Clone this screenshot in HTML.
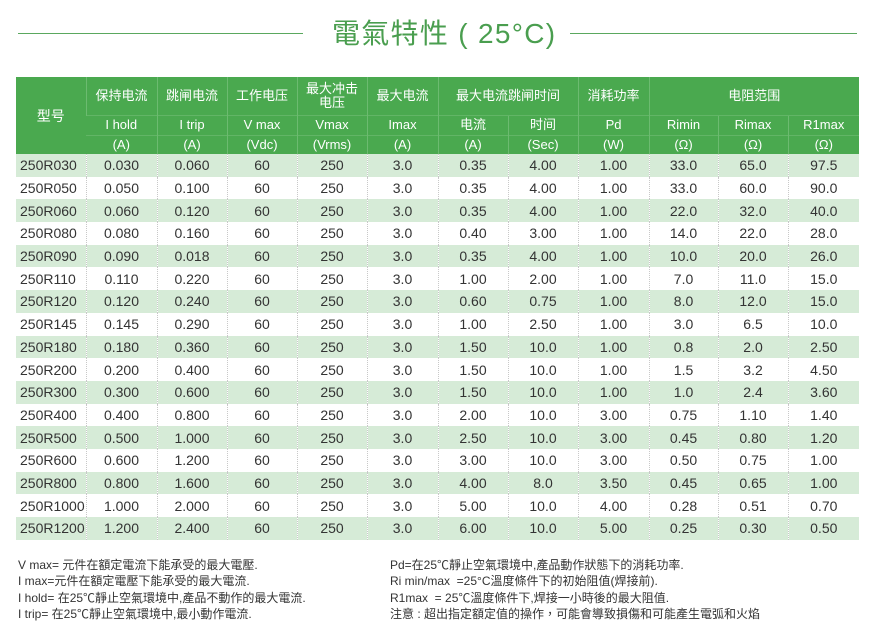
<!DOCTYPE html>
<html><head><meta charset="utf-8"><style>
body{margin:0;width:877px;height:641px;background:#fff;position:relative;overflow:hidden;font-family:"Liberation Sans","Noto Sans CJK SC",sans-serif;}
.line{position:absolute;height:1px;background:#5aa85e;top:33px;}
.title{position:absolute;left:332px;top:12px;font-size:28px;color:#4a9e4f;letter-spacing:1.3px;white-space:nowrap;font-family:"Liberation Sans","Noto Sans CJK TC",sans-serif;}
table{position:absolute;left:16px;top:77px;border-collapse:collapse;table-layout:fixed;width:843px;}
td{padding:0;text-align:center;white-space:nowrap;overflow:hidden;}
thead td{background:#4aa94f;color:#fff;font-size:13px;line-height:14px;border-left:1px solid #6cbb70;}
thead tr.r2 td,thead tr.r3 td{border-top:1px solid #62b566;}
tbody td{font-size:14px;color:#333;height:22.7px;border-left:1px dotted #c8c8c8;}
tbody td:first-child{text-align:left;padding-left:4px;}
tbody tr:nth-child(odd) td{background:#d6ebd7;}
td:first-child{border-left:none;}
.note{position:absolute;font-size:12px;color:#333;line-height:16.3px;white-space:nowrap;font-family:"Liberation Sans","Noto Sans CJK TC",sans-serif;}
</style></head><body>
<div class="line" style="left:18px;width:285px"></div>
<div class="line" style="left:570px;width:287px"></div>
<div class="title">電氣特性 ( 25°C)</div>
<table>
<colgroup><col style="width:70px"><col style="width:71px"><col style="width:70px"><col style="width:70px"><col style="width:70px"><col style="width:71px"><col style="width:70px"><col style="width:70px"><col style="width:71px"><col style="width:69px"><col style="width:70px"><col style="width:71px"></colgroup>
<thead>
<tr style="height:38px"><td rowspan="3" style="font-size:14px">型号</td><td>保持电流</td><td>跳闸电流</td><td>工作电压</td><td>最大冲击<br>电压</td><td>最大电流</td><td colspan="2">最大电流跳闸时间</td><td>消耗功率</td><td colspan="3">电阻范围</td></tr>
<tr class="r2" style="height:20px"><td>I hold</td><td>I trip</td><td>V max</td><td>Vmax</td><td>Imax</td><td>电流</td><td>时间</td><td>Pd</td><td>Rimin</td><td>Rimax</td><td>R1max</td></tr>
<tr class="r3" style="height:19px"><td>(A)</td><td>(A)</td><td>(Vdc)</td><td>(Vrms)</td><td>(A)</td><td>(A)</td><td>(Sec)</td><td>(W)</td><td>(Ω)</td><td>(Ω)</td><td>(Ω)</td></tr>
</thead>
<tbody>
<tr><td>250R030</td><td>0.030</td><td>0.060</td><td>60</td><td>250</td><td>3.0</td><td>0.35</td><td>4.00</td><td>1.00</td><td>33.0</td><td>65.0</td><td>97.5</td></tr>
<tr><td>250R050</td><td>0.050</td><td>0.100</td><td>60</td><td>250</td><td>3.0</td><td>0.35</td><td>4.00</td><td>1.00</td><td>33.0</td><td>60.0</td><td>90.0</td></tr>
<tr><td>250R060</td><td>0.060</td><td>0.120</td><td>60</td><td>250</td><td>3.0</td><td>0.35</td><td>4.00</td><td>1.00</td><td>22.0</td><td>32.0</td><td>40.0</td></tr>
<tr><td>250R080</td><td>0.080</td><td>0.160</td><td>60</td><td>250</td><td>3.0</td><td>0.40</td><td>3.00</td><td>1.00</td><td>14.0</td><td>22.0</td><td>28.0</td></tr>
<tr><td>250R090</td><td>0.090</td><td>0.018</td><td>60</td><td>250</td><td>3.0</td><td>0.35</td><td>4.00</td><td>1.00</td><td>10.0</td><td>20.0</td><td>26.0</td></tr>
<tr><td>250R110</td><td>0.110</td><td>0.220</td><td>60</td><td>250</td><td>3.0</td><td>1.00</td><td>2.00</td><td>1.00</td><td>7.0</td><td>11.0</td><td>15.0</td></tr>
<tr><td>250R120</td><td>0.120</td><td>0.240</td><td>60</td><td>250</td><td>3.0</td><td>0.60</td><td>0.75</td><td>1.00</td><td>8.0</td><td>12.0</td><td>15.0</td></tr>
<tr><td>250R145</td><td>0.145</td><td>0.290</td><td>60</td><td>250</td><td>3.0</td><td>1.00</td><td>2.50</td><td>1.00</td><td>3.0</td><td>6.5</td><td>10.0</td></tr>
<tr><td>250R180</td><td>0.180</td><td>0.360</td><td>60</td><td>250</td><td>3.0</td><td>1.50</td><td>10.0</td><td>1.00</td><td>0.8</td><td>2.0</td><td>2.50</td></tr>
<tr><td>250R200</td><td>0.200</td><td>0.400</td><td>60</td><td>250</td><td>3.0</td><td>1.50</td><td>10.0</td><td>1.00</td><td>1.5</td><td>3.2</td><td>4.50</td></tr>
<tr><td>250R300</td><td>0.300</td><td>0.600</td><td>60</td><td>250</td><td>3.0</td><td>1.50</td><td>10.0</td><td>1.00</td><td>1.0</td><td>2.4</td><td>3.60</td></tr>
<tr><td>250R400</td><td>0.400</td><td>0.800</td><td>60</td><td>250</td><td>3.0</td><td>2.00</td><td>10.0</td><td>3.00</td><td>0.75</td><td>1.10</td><td>1.40</td></tr>
<tr><td>250R500</td><td>0.500</td><td>1.000</td><td>60</td><td>250</td><td>3.0</td><td>2.50</td><td>10.0</td><td>3.00</td><td>0.45</td><td>0.80</td><td>1.20</td></tr>
<tr><td>250R600</td><td>0.600</td><td>1.200</td><td>60</td><td>250</td><td>3.0</td><td>3.00</td><td>10.0</td><td>3.00</td><td>0.50</td><td>0.75</td><td>1.00</td></tr>
<tr><td>250R800</td><td>0.800</td><td>1.600</td><td>60</td><td>250</td><td>3.0</td><td>4.00</td><td>8.0</td><td>3.50</td><td>0.45</td><td>0.65</td><td>1.00</td></tr>
<tr><td>250R1000</td><td>1.000</td><td>2.000</td><td>60</td><td>250</td><td>3.0</td><td>5.00</td><td>10.0</td><td>4.00</td><td>0.28</td><td>0.51</td><td>0.70</td></tr>
<tr><td>250R1200</td><td>1.200</td><td>2.400</td><td>60</td><td>250</td><td>3.0</td><td>6.00</td><td>10.0</td><td>5.00</td><td>0.25</td><td>0.30</td><td>0.50</td></tr>
</tbody>
</table>
<div class="note" style="left:18px;top:557px">V max= 元件在額定電流下能承受的最大電壓.<br>I max=元件在額定電壓下能承受的最大電流.<br>I hold= 在25℃靜止空氣環境中,產品不動作的最大電流.<br>I trip= 在25℃靜止空氣環境中,最小動作電流.</div>
<div class="note" style="left:390px;top:557px">Pd=在25℃靜止空氣環境中,產品動作狀態下的消耗功率.<br>Ri min/max &nbsp;=25°C溫度條件下的初始阻值(焊接前).<br>R1max &nbsp;= 25℃溫度條件下,焊接一小時後的最大阻值.<br>注意 : 超出指定額定值的操作，可能會導致損傷和可能產生電弧和火焰</div>
</body></html>
